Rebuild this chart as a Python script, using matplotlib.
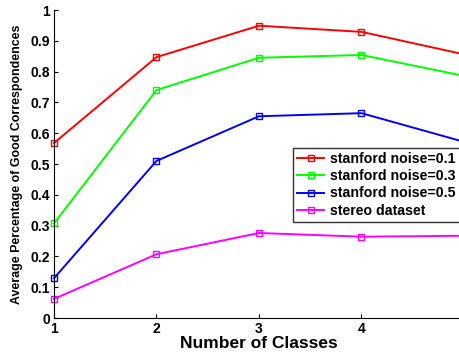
import numpy as np
import matplotlib
matplotlib.use('Agg')
import matplotlib.pyplot as plt

plt.rcParams['font.family'] = ['Liberation Sans', 'DejaVu Sans']
plt.rcParams['font.weight'] = 'bold'

# datos
clases = [1, 2, 3, 4, 5]
noise_01 = [0.568, 0.847, 0.949, 0.929, 0.856]
noise_03 = [0.307, 0.740, 0.845, 0.854, 0.786]
noise_05 = [0.129, 0.510, 0.655, 0.665, 0.572]
stereo = [0.062, 0.207, 0.276, 0.264, 0.267]

series = [
    (noise_01, '#ff0000', 'stanford noise=0.1'),
    (noise_03, '#00ff00', 'stanford noise=0.3'),
    (noise_05, '#0000ff', 'stanford noise=0.5'),
    (stereo, '#ff00ff', 'stereo dataset'),
]

fig = plt.figure(figsize=(4.6, 3.52), dpi=100)
ax = fig.add_axes([54 / 460, 34 / 352, 410 / 460, 308 / 352])

for vals, col, lab in series:
    ax.plot(clases, vals, color=col, lw=1.4, marker='s', ms=5,
            mfc='none', mec=col, mew=1.0, label=lab, clip_on=False)

ax.set_xlim(1, 5)
ax.set_ylim(0, 1)
ax.set_xticks([1, 2, 3, 4, 5])
ax.set_yticks(np.arange(0, 1.01, 0.1))
ax.set_yticklabels(['0', '0.1', '0.2', '0.3', '0.4', '0.5', '0.6', '0.7', '0.8', '0.9', '1'])
ax.tick_params(direction='in', length=3, labelsize=10, pad=3)
for t in ax.get_xticklabels() + ax.get_yticklabels():
    t.set_fontweight('bold')

ax.spines['top'].set_visible(False)
ax.spines['right'].set_visible(False)

ax.set_xlabel('Number of Classes', fontsize=12.5, fontweight='bold', labelpad=0)
ax.set_ylabel('Average Percentage of Good Correspondences', fontsize=8.9,
              fontweight='bold', labelpad=5)

leg = ax.legend(loc='upper left', bbox_to_anchor=(0.583, 0.552),
                borderaxespad=0, fancybox=False, edgecolor='black',
                prop={'size': 10.2, 'weight': 'bold'}, handlelength=1.9,
                handletextpad=0.4, labelspacing=0.22, borderpad=0.3,
                markerscale=0.8)
leg.get_frame().set_linewidth(1.0)

fig.savefig('out.png', dpi=100)
